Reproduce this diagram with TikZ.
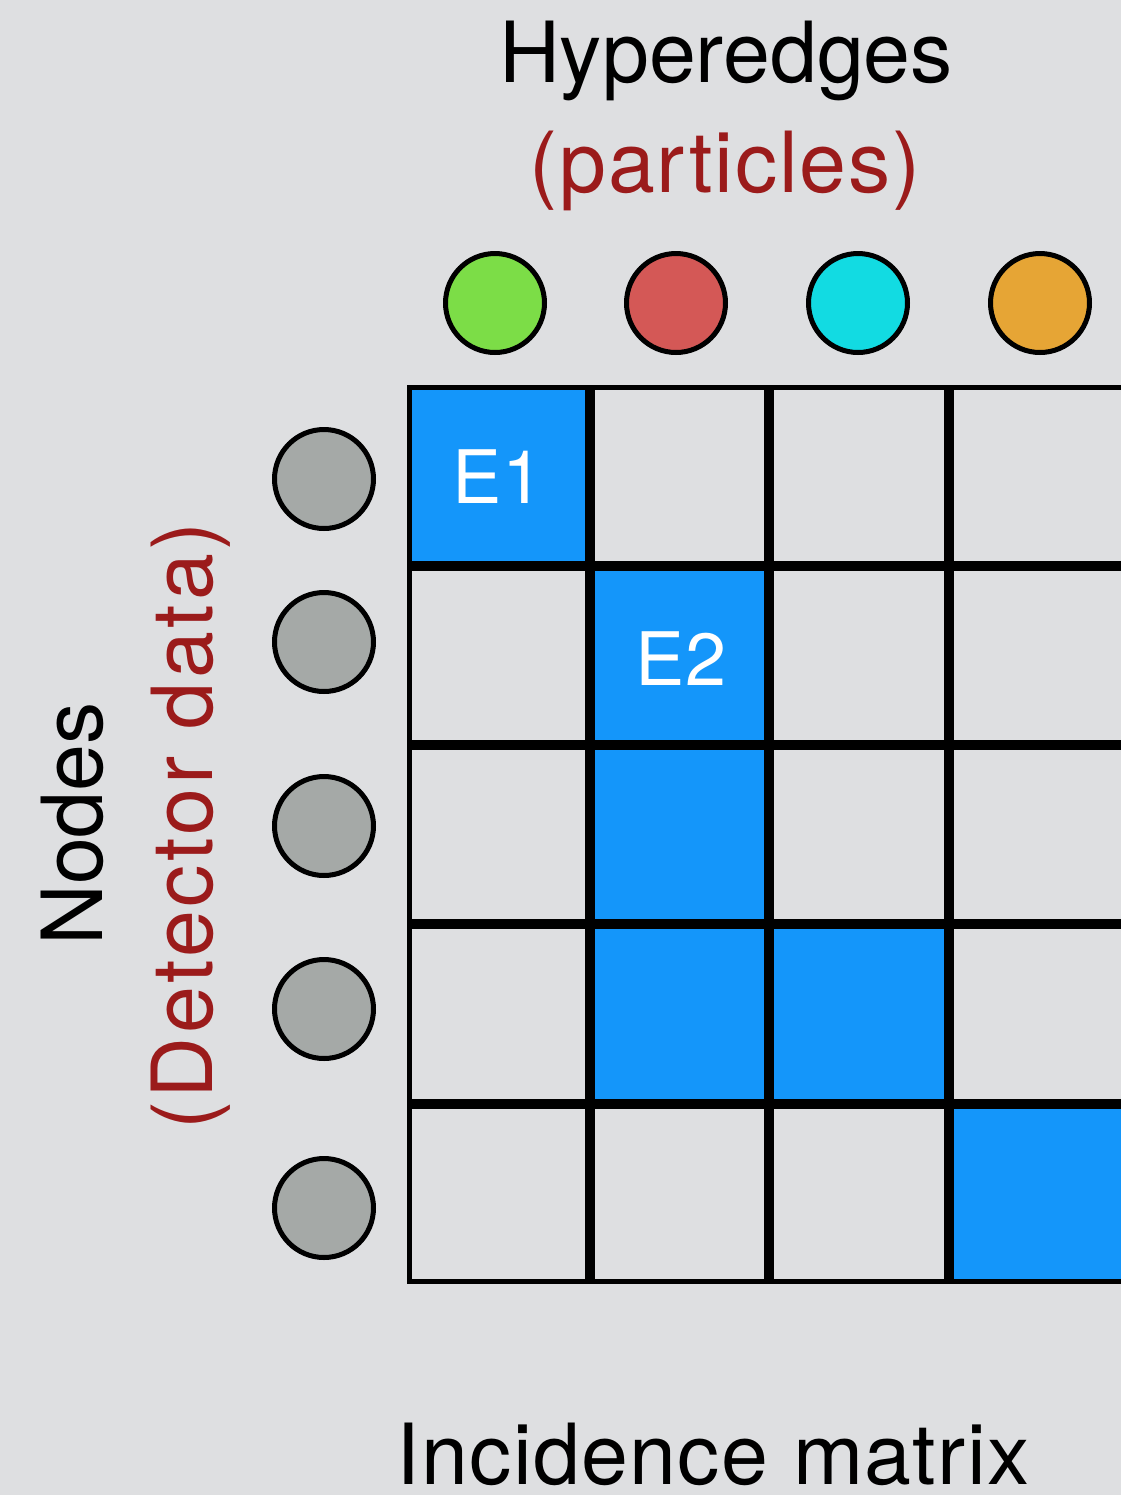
\documentclass[tikz,border=0pt]{standalone}
\usepackage{fontspec}
\setmainfont{TeX Gyre Heros}
\definecolor{bggray}{RGB}{222,223,225}
\definecolor{cellblue}{RGB}{20,150,250}
\definecolor{labelred}{RGB}{155,27,27}
\definecolor{hgreen}{RGB}{124,221,71}
\definecolor{hred}{RGB}{212,88,86}
\definecolor{hcyan}{RGB}{18,219,226}
\definecolor{horange}{RGB}{230,165,53}
\definecolor{vgray}{RGB}{165,169,167}

\begin{document}
\begin{tikzpicture}[x=0.02cm, y=-0.02cm,
    title/.style={font=\fontsize{48}{58}\selectfont, inner sep=0pt, anchor=base},
    spaced/.style={font=\fontsize{48}{58}\selectfont\addfontfeatures{LetterSpace=#1}},
    cellname/.style={font=\fontsize{42}{50}\selectfont, text=white, inner sep=0pt, anchor=base},
    dot/.style={circle, draw, line width=2.85pt, minimum size=1.98cm, inner sep=0pt},
    thinline/.style={line width=2.85pt},
    thickline/.style={line width=5.7pt}]
      \fill[bggray] (0,0) rectangle (1121,1495);
      \useasboundingbox (0,0) rectangle (1121,1495);
      \clip (0,0) rectangle (1121,1495);

      % labels
      \node (hyper) [title] at (726,82) {Hyperedges};
      \node (particles) [title, spaced=2.2, text=labelred] at (725,192) {(particles)};
      \node (nodes) [title, rotate=90] at (102,824) {Nodes};
      \node (detector) [title, spaced=4.4, text=labelred] [rotate=90] at (212,826) {(Detector data)};
      \node (incidence) [title, spaced=1.6] at (713,1484) {Incidence matrix};

      % hyperedges and nodes
      \foreach \x/\c [count=\i] in {495/hgreen, 676/hred, 858/hcyan, 1040/horange}
        \node (edge\i) [dot, fill=\c] at (\x,303) {};
      \foreach \y [count=\i] in {479,642,826,1009,1208}
        \node (vert\i) [dot, fill=vgray] at (324,\y) {};

      % incidence matrix
      \foreach \xa/\xb/\ya/\yb in {409.5/590/387/566, 590/769/566/745, 590/769/745/924,
          590/769/924/1104, 769/948.5/924/1104, 948.5/1140/1104/1281.5}
        \fill[cellblue] (\xa,\ya) rectangle (\xb,\yb);
      \draw[thinline] (1140,387) -- (409.5,387) -- (409.5,1281.5) -- (1140,1281.5);
      \foreach \x in {590,769,948.5}
        \draw[thickline] (\x,387) -- (\x,1281.5);
      \foreach \y in {566,745,924,1104}
        \draw[thickline] (409.5,\y) -- (1140,\y);

      \node (e1) [cellname] at (498,503) {E1};
      \node (e2) [cellname] at (681,685) {E2};
\end{tikzpicture}
\end{document}
